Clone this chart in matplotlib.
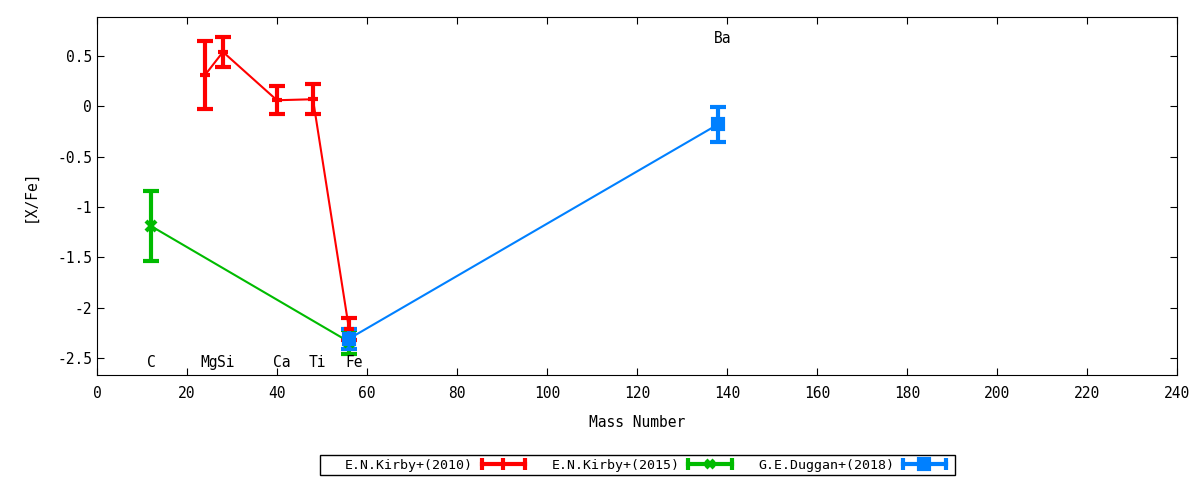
import matplotlib
matplotlib.use("Agg")
import matplotlib.pyplot as plt
from matplotlib.lines import Line2D
from matplotlib.patches import Rectangle
from matplotlib.legend_handler import HandlerBase

plt.rcParams['font.family'] = ['DejaVu Sans Mono']
fs = 10
plt.rcParams['font.size'] = fs

# E.N.Kirby+(2010)
kirby10_x = [24, 28, 40, 48, 56]
kirby10_y = [0.31, 0.54, 0.06, 0.07, -2.21]
kirby10_err = [0.34, 0.15, 0.14, 0.15, 0.11]

# E.N.Kirby+(2015)
kirby15_x = [12, 56]
kirby15_y = [-1.19, -2.34]
kirby15_err = [0.35, 0.12]

# G.E.Duggan+(2018)
duggan_x = [56, 138]
duggan_y = [-2.31, -0.18]
duggan_err = [0.10, 0.17]

elem_names = ['C', 'Mg', 'Si', 'Ca', 'Ti', 'Fe', 'Ba']
elem_x = [12.2, 25, 28.6, 41, 49, 57.2, 139]
elem_y = [-2.55, -2.55, -2.55, -2.55, -2.55, -2.55, 0.675]

series = [
    (kirby10_x, kirby10_y, kirby10_err, '#ff0000', '|', 8, 'E.N.Kirby+(2010)'),
    (kirby15_x, kirby15_y, kirby15_err, '#00bb00', 'x', 6, 'E.N.Kirby+(2015)'),
    (duggan_x, duggan_y, duggan_err, '#0080ff', 's', 7, 'G.E.Duggan+(2018)'),
]


class ErrbarHandler(HandlerBase):
    # horizontal sample with end caps and point in the middle, like gnuplot
    def create_artists(self, legend, orig, xd, yd, w, h, fontsize, trans):
        c = orig.get_color()
        m = orig.get_marker()
        y = h / 2 - yd
        x0, x1 = -xd, -xd + w
        line = Line2D([x0, x1], [y, y], color=c, lw=3, transform=trans)
        caps = Line2D([x0, x1], [y, y], color=c, ls='none', marker='|',
                      ms=8, mew=3, transform=trans)
        mid = Line2D([(x0 + x1) / 2], [y], color=c, ls='none', marker=m,
                     ms=orig.get_markersize(), mew=3, transform=trans)
        return [line, caps, mid]


fig = plt.figure(figsize=(12, 4.8), dpi=100)
ax = fig.add_axes([0.0808, 0.21875, 0.9, 0.7458])

handles = []
for x, y, e, c, m, ms, lab in series:
    mk = '_' if m == '|' else m
    ax.errorbar(x, y, yerr=e, color=c, lw=1.5, elinewidth=3, capsize=6,
                capthick=3, marker=mk, ms=7, mew=3)
    handles.append(Line2D([], [], color=c, marker=m, ms=ms, label=lab))

for name, x, y in zip(elem_names, elem_x, elem_y):
    ax.text(x, y, name, ha='center', va='center', fontsize=fs + 0.5)

ax.set_xlim(0, 240)
ax.set_ylim(-2.67, 0.887)
ax.set_xticks(range(0, 241, 20))
ax.set_yticks([0.5, 0, -0.5, -1, -1.5, -2, -2.5])
ax.set_yticklabels(['0.5', '0', '-0.5', '-1', '-1.5', '-2', '-2.5'])
ax.tick_params(direction='in', top=True, right=True, length=5,
               labelsize=fs + 0.5)
ax.tick_params(axis='x', pad=8)
ax.set_xlabel('Mass Number', fontsize=fs + 0.5, labelpad=10)
ax.set_ylabel('[X/Fe]', fontsize=fs + 0.5, labelpad=14)

# gnuplot style key: text then sample, boxed
fig.patches.append(Rectangle((320 / 1200, 5 / 480), 635 / 1200, 20 / 480,
                             transform=fig.transFigure, fill=False,
                             edgecolor='black', lw=1))
fig.legend(handles=handles, loc='center left',
           bbox_to_anchor=(345 / 1200, 15 / 480), borderaxespad=0,
           ncol=3, markerfirst=False, frameon=False, fontsize=9.5,
           borderpad=0, handlelength=3.3, columnspacing=2.0,
           handletextpad=0.65, handler_map={Line2D: ErrbarHandler()})

fig.savefig('out.png', dpi=100)
